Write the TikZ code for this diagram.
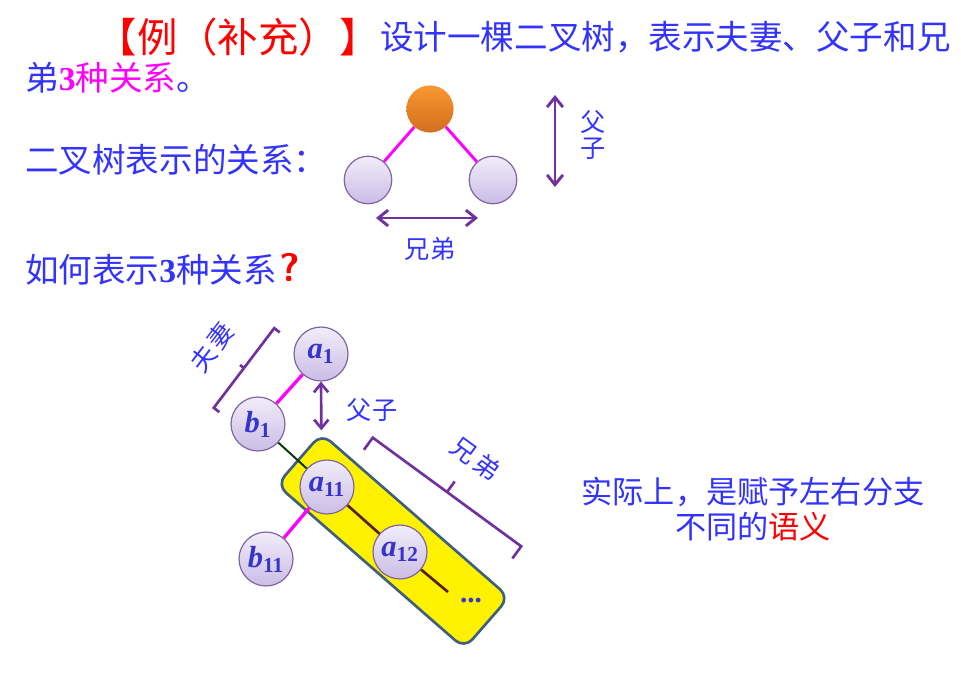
\documentclass[tikz,border=0pt]{standalone}
\usepackage{fontspec}
\setmainfont{Liberation Serif}
\newfontfamily\cjk{Noto Sans CJK SC}
\usetikzlibrary{arrows.meta}
\definecolor{txtblue}{HTML}{3333FF}
\definecolor{lblblue}{HTML}{3535C8}
\definecolor{pinkred}{HTML}{FF00FF}
\definecolor{arrowpurple}{HTML}{7030A0}
\definecolor{nodeedge}{HTML}{8064A2}
\definecolor{nodetop}{HTML}{F1EDF9}
\definecolor{nodebot}{HTML}{CBBCE6}
\definecolor{orangetop}{HTML}{F8982F}
\definecolor{orangebot}{HTML}{D26E1F}
\definecolor{boxedge}{HTML}{3E5F80}
\definecolor{brownline}{HTML}{5A1E00}
\definecolor{greenline}{HTML}{0A3A0A}
\newcommand\hugetxt{\fontsize{25.3}{28}\selectfont}
\newcommand\righttxt{\fontsize{23.5}{28}\selectfont}
\newcommand\smalltxt{\fontsize{19}{22}\selectfont}
\newcommand\nlab[2]{#1\textsubscript{\upshape #2}}

\begin{document}
\begin{tikzpicture}[x=0.0265cm,y=-0.0265cm,
  >={Straight Barb[length=2.6mm,width=4.2mm]},
  txt/.style={inner sep=0pt,text=txtblue,font=\cjk\hugetxt},
  lbl/.style={inner sep=0pt,text=txtblue,font=\cjk\smalltxt},
  tnode/.style={circle,draw=nodeedge,line width=0.9pt,top color=nodetop,bottom color=nodebot,minimum size=1.26cm,inner sep=0pt},
  bnode/.style={tnode,minimum size=1.43cm,text=lblblue,font=\fontsize{23}{26}\selectfont\bfseries\itshape},
  rel/.style={<->,draw=arrowpurple,line width=2.2pt},
  brace/.style={draw=arrowpurple,line width=2pt},
  wife/.style={draw=pinkred,line width=2.5pt}]
\useasboundingbox (0,0) rectangle (961,676);

% question
\node[txt,anchor=east,font=\cjk\fontsize{30.5}{32}\selectfont] (ex) at (380,37) {\color{red}【例（补充）】};
\node[txt,anchor=west] (title) at (380,37) {设计一棵二叉树，表示夫妻、父子和兄};
\node[txt,anchor=west] (title2) at (25,78) {弟{\color{pinkred}\bfseries\rmfamily 3}{\color{pinkred}种关系}。};
\node[txt,anchor=west] (rel) at (25,160) {二叉树表示的关系：};
\node[txt,anchor=west] (how) at (25,270) {如何表示{\bfseries\rmfamily 3}种关系};
\node[inner sep=0pt,text=red,font=\fontsize{30}{32}\selectfont\sffamily\bfseries] (qm) at (290,267) {?};

% small binary tree
\node[circle,top color=orangetop,bottom color=orangebot,minimum size=1.25cm,inner sep=0pt] (root) at (430,109) {};
\node[tnode] (lc) at (368,180) {};
\node[tnode] (rc) at (493,180) {};
\draw[draw=pinkred,line width=2.2pt] (root) -- (lc);
\draw[draw=pinkred,line width=2.2pt] (root) -- (rc);
\coordinate (ptop) at (555,95);
\coordinate (pbot) at (555,187);
\coordinate (sl) at (376,218);
\coordinate (sr) at (478,218);
\draw[rel] (ptop) -- (pbot);
\draw[rel] (sl) -- (sr);
\node[lbl] (fu) at (593,122) {父};
\node[lbl] (zi) at (593,149) {子};
\node[lbl] (xd) at (430,249) {兄弟};

% family tree
\node[rectangle,rounded corners=9pt,draw=boxedge,line width=2pt,fill=yellow,rotate=-41.1,
  minimum width=6.6cm,minimum height=1.8cm] (kids) at (393,541) {};
\node[bnode] (a1) at (321,354) {\nlab{a}{1}};
\node[bnode] (b1) at (258,424) {\nlab{b}{1}};
\node[bnode] (a11) at (327,487) {\nlab{a}{11}};
\node[bnode] (b11) at (266,559) {\nlab{b}{11}};
\node[bnode] (a12) at (400,552) {\nlab{a}{12}};
\coordinate (tail) at (448,592);
\node[inner sep=0pt,text=lblblue,font=\fontsize{22}{24}\selectfont\bfseries] (dots) at (471,601) {...};
\draw[wife] (a1) -- (b1);
\draw[wife] (a11) -- (b11);
\draw[draw=greenline,line width=1.5pt] (b1) -- (a11);
\draw[draw=brownline,line width=2pt] (a11) -- (a12);
\draw[draw=brownline,line width=2pt] (a12) -- (tail);
\draw[rel,line width=2pt,>={Straight Barb[length=2.3mm,width=3.8mm]},shorten >=1pt] (a1.south) -- (kids.north west);
\node[lbl] (fz) at (372,410) {父子};

% brackets
\begin{scope}[shift={(244,368)},rotate=52.8]
\draw[brace] (-50,7) -- (-50,0) -- (50,0) -- (50,7) (0,0) -- (0,-5);
\end{scope}
\node[lbl,rotate=52.8] (fq) at (212,347) {夫\hspace{3pt}妻};
\begin{scope}[shift={(447,492)},rotate=-36.2]
\draw[brace] (-92,15) -- (-92,0) -- (92,0) -- (92,15) (0,0) -- (0,-13);
\end{scope}
\node[lbl,rotate=-36.2] (xd2) at (476,459) {兄\hspace{3pt}弟};

% remark
\node[txt,font=\cjk\righttxt] (note1) at (753,492) {实际上，是赋予左右分支};
\node[txt,font=\cjk\righttxt] (note2) at (753,527) {不同的{\color{red}语义}};
\end{tikzpicture}
\end{document}
